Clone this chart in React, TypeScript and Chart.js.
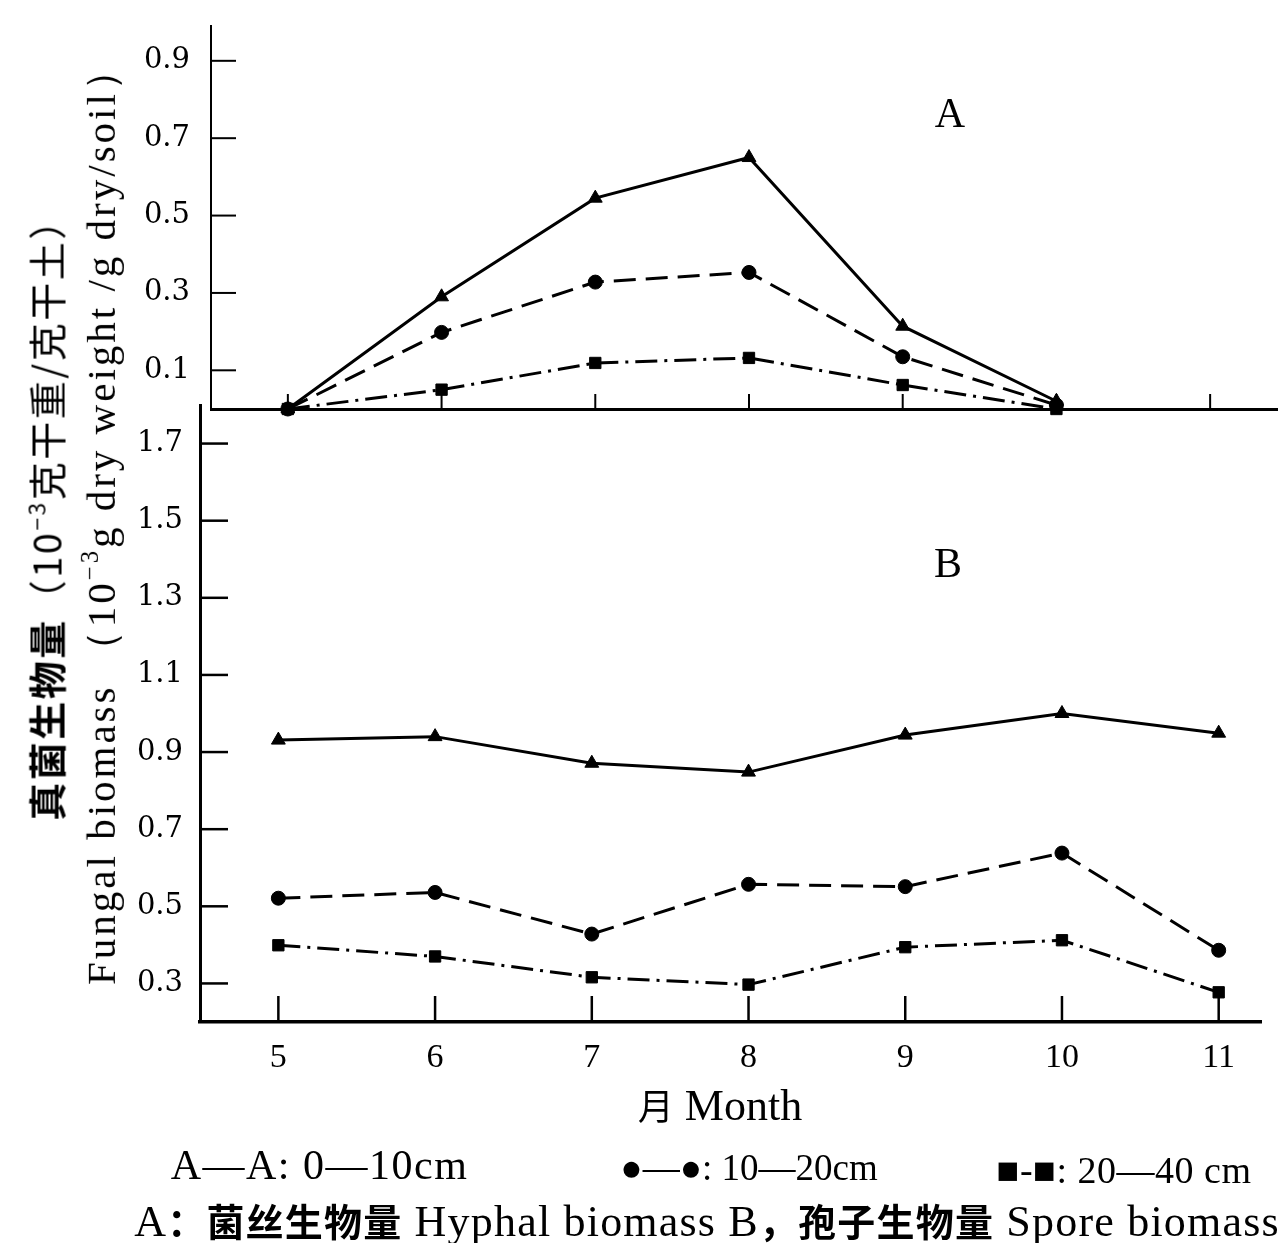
import React, { useEffect, useRef } from "react";
import { Chart, registerables } from "chart.js";
Chart.register(...registerables);

// ---- data ----
const monthsA = [5, 6, 7, 8, 9, 10];
const monthsB = [5, 6, 7, 8, 9, 10, 11];
const hyphal0to10 = [0.0, 0.29, 0.545, 0.65, 0.214, 0.02];
const hyphal10to20 = [0.0, 0.198, 0.328, 0.353, 0.135, 0.01];
const hyphal20to40 = [0.0, 0.05, 0.119, 0.132, 0.062, 0.0];
const spore0to10 = [0.931, 0.94, 0.871, 0.848, 0.944, 1.0, 0.949];
const spore10to20 = [0.521, 0.536, 0.428, 0.557, 0.551, 0.638, 0.386];
const spore20to40 = [0.399, 0.37, 0.316, 0.297, 0.394, 0.412, 0.277];
const ticksA = [0.1, 0.3, 0.5, 0.7, 0.9];
const ticksB = [0.3, 0.5, 0.7, 0.9, 1.1, 1.3, 1.5, 1.7];
const monthTicks = [5, 6, 7, 8, 9, 10, 11];

const SERIF = "'DejaVu Serif', 'Liberation Serif', serif";
const TIMES = "'Liberation Serif', 'DejaVu Serif', serif";
const CJK = "'Noto Sans CJK SC', sans-serif";

const dashStyles = [[], [22, 10], [22, 7, 3, 7]];
const pointStyles = ["triangle", "circle", "rect"];

function makeDatasets(xs: number[], series: number[][]) {
  return series.map((vals, i) => ({
    data: xs.map((m, j) => ({ x: m, y: vals[j] })),
    borderColor: "#000",
    backgroundColor: "#000",
    borderWidth: 3,
    borderDash: dashStyles[i],
    pointStyle: pointStyles[i],
    pointRadius: i === 1 ? 7 : 8,
    pointBorderWidth: 1,
    tension: 0,
    clip: false as any,
    order: 2 - i,
  }));
}

function tickPlugin(yTicks: number[], yLen: number, xLen: number, w: number) {
  return {
    id: "inwardTicks",
    beforeDatasetsDraw(chart: any) {
      const { ctx, chartArea, scales } = chart;
      ctx.save();
      ctx.strokeStyle = "#000";
      ctx.lineWidth = w;
      yTicks.forEach((v) => {
        const y = scales.y.getPixelForValue(v);
        ctx.beginPath();
        ctx.moveTo(chartArea.left, y);
        ctx.lineTo(chartArea.left + yLen, y);
        ctx.stroke();
      });
      monthTicks.forEach((m) => {
        const x = scales.x.getPixelForValue(m);
        ctx.beginPath();
        ctx.moveTo(x, chartArea.bottom);
        ctx.lineTo(x, chartArea.bottom - xLen);
        ctx.stroke();
      });
      ctx.restore();
    },
  };
}

function zeroPad(s: any) {
  s.paddingTop = 0;
  s.paddingBottom = 0;
  s.paddingLeft = 0;
  s.paddingRight = 0;
}

function baseOptions(o: any) {
  return {
    responsive: false,
    maintainAspectRatio: false,
    animation: false as const,
    devicePixelRatio: 1,
    layout: { padding: o.padding },
    plugins: { legend: { display: false }, tooltip: { enabled: false } },
    scales: {
      x: {
        type: "linear" as const,
        min: o.xMin,
        max: o.xMax,
        afterFit: (s: any) => { s.height = o.xHeight; zeroPad(s); },
        afterBuildTicks: (s: any) => { s.ticks = monthTicks.map((v) => ({ value: v })); },
        grid: { drawOnChartArea: false, drawTicks: false },
        border: { display: true, color: "#000", width: o.xBorder },
        ticks: {
          display: o.xLabels,
          padding: 16,
          color: "#000",
          font: { family: TIMES, size: 34 },
          callback: (v: any) => String(v),
        },
      },
      y: {
        type: "linear" as const,
        min: o.yMin,
        max: o.yMax,
        afterFit: (s: any) => { s.width = o.yWidth; zeroPad(s); },
        afterBuildTicks: (s: any) => { s.ticks = o.yTicks.map((v: number) => ({ value: v })); },
        grid: { drawOnChartArea: false, drawTicks: false },
        border: { display: true, color: "#000", width: o.yBorder },
        ticks: {
          padding: o.yPad,
          color: "#000",
          font: { family: SERIF, size: 29 },
          callback: (v: any) => Number(v).toFixed(1),
        },
      },
    },
  };
}

function T(props: any) {
  const { x, y, size, family, weight, rotate, ls, children } = props;
  return (
    <div
      style={{
        position: "absolute",
        left: x,
        top: y,
        transform: `translate(-50%, -50%)${rotate ? ` rotate(${rotate}deg)` : ""}`,
        whiteSpace: "nowrap",
        fontSize: size,
        fontFamily: family || TIMES,
        fontWeight: weight || "normal",
        letterSpacing: ls || 0,
        color: "#000",
        lineHeight: 1,
      }}
    >
      {children}
    </div>
  );
}

export default function App() {
  const refA = useRef<HTMLCanvasElement>(null);
  const refB = useRef<HTMLCanvasElement>(null);

  useEffect(() => {
    const a = new Chart(refA.current as HTMLCanvasElement, {
      type: "line",
      data: { datasets: makeDatasets(monthsA, [hyphal0to10, hyphal10to20, hyphal20to40]) as any },
      options: baseOptions({
        padding: { top: 26, left: 0, right: 0, bottom: 0 },
        xMin: 4.5, xMax: 11.435, xHeight: 31, xBorder: 3, xLabels: false,
        yMin: 0, yMax: 0.99, yWidth: 211, yBorder: 2, yPad: 21, yTicks: ticksA,
      }) as any,
      plugins: [tickPlugin(ticksA, 25, 15, 2) as any],
    });
    const b = new Chart(refB.current as HTMLCanvasElement, {
      type: "line",
      data: { datasets: makeDatasets(monthsB, [spore0to10, spore10to20, spore20to40]) as any },
      options: baseOptions({
        padding: { top: 405, left: 0, right: 25, bottom: 0 },
        xMin: 4.5, xMax: 11.27, xHeight: 221, xBorder: 3.5, xLabels: true,
        yMin: 0.2, yMax: 1.8, yWidth: 200, yBorder: 3, yPad: 17, yTicks: ticksB,
      }) as any,
      plugins: [tickPlugin(ticksB, 28, 26, 2.5) as any],
    });
    return () => {
      a.destroy();
      b.destroy();
    };
  }, []);

  const sup = { fontSize: "0.6em", verticalAlign: "0.7em" };
  const cjk = (t: string, size?: number) => (
    <span style={{ fontFamily: CJK, fontWeight: 700, fontSize: size }}>{t}</span>
  );

  return (
    <div style={{ position: "absolute", left: 0, top: 0, width: 1286, height: 1243, background: "#fff", overflow: "hidden" }}>
      <canvas ref={refB} width={1286} height={1243} style={{ position: "absolute", left: 0, top: 0, width: 1286, height: 1243 }} />
      <canvas ref={refA} width={1286} height={440} style={{ position: "absolute", left: 0, top: 0, width: 1286, height: 440 }} />

      <T x={45} y={510} size={38} family={CJK} rotate={-90} ls={2.5}>
        <span style={{ fontWeight: 700 }}>真菌生物量</span>（10<span style={sup}>−3</span>克干重/克干土）
      </T>
      <T x={100} y={516} size={41} family={TIMES} rotate={-90} ls={3}>
        Fungal biomass （10<span style={sup}>−3</span>g dry weight /g dry/soil）
      </T>

      <T x={950} y={113} size={42}>A</T>
      <T x={948} y={563} size={42}>B</T>

      <T x={720} y={1106} size={44}>
        <span style={{ fontFamily: CJK, fontSize: 36 }}>月</span> Month
      </T>

      <T x={319.5} y={1165} size={42} ls={1.5}>A—A: 0—10cm</T>
      <T x={749} y={1167} size={37}>●—●: 10—20cm</T>
      <T x={1124} y={1170} size={38} ls={0.5}>■-■: 20—40 cm</T>

      <T x={707} y={1222} size={44} ls={1.2}>
        A{cjk("：", 38)}{cjk("菌丝生物量", 38)} Hyphal biomass B{cjk("，", 38)}{cjk("孢子生物量", 38)} Spore biomass
      </T>
    </div>
  );
}
